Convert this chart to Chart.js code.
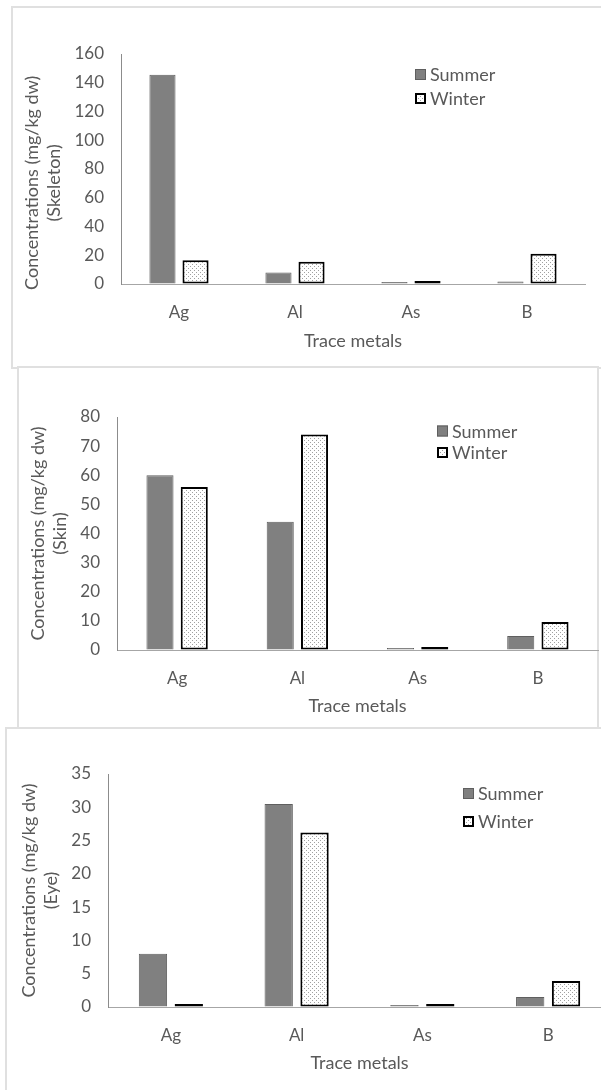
<!DOCTYPE html>
<html>
<head>
<meta charset="utf-8">
<script src="https://cdn.jsdelivr.net/npm/chart.js@4.4.1/dist/chart.umd.min.js"></script>
<style>
  html, body { margin: 0; padding: 0; background: #fff; }
  body { width: 601px; height: 1090px; position: relative; overflow: hidden; }
  .panel { position: absolute; box-sizing: border-box; border: 2px solid #e0e0e0; background: #fff; }
  canvas { position: absolute; left: 0; }
</style>
</head>
<body>
<div class="panel" style="left:11px; top:6px; width:640px; height:363px;"></div>
<div class="panel" style="left:17px; top:366px; width:582px; height:364px;"></div>
<div class="panel" style="left:5px; top:727px; width:640px; height:400px;"></div>
<canvas id="skeletonChart" width="601" height="368" style="top:0px;"></canvas>
<canvas id="skinChart" width="601" height="360" style="top:368px;"></canvas>
<canvas id="eyeChart" width="620" height="362" style="top:728px;"></canvas>
<script>
// Data (mg/kg dw)
const metals = ['Ag', 'Al', 'As', 'B'];
const seasons = ['Summer', 'Winter'];

const skeletonSummer = [145.5, 8.0, 0.5, 1.8];
const skeletonWinter = [16.5, 15.5, 0.9, 21.0];

const skinSummer = [60.0, 44.0, 0.4, 4.8];
const skinWinter = [56.0, 74.0, 0.6, 9.6];

const eyeSummer = [8.0, 30.5, 0.15, 1.5];
const eyeWinter = [0.15, 26.2, 0.15, 3.9];

const textColor = '#595959';
const fontFamily = 'Lato, "Open Sans", sans-serif';

// dotted fill used for the winter bars
const makeDots = () => {
    const c = document.createElement('canvas');
    c.width = 4; c.height = 4;
    const g = c.getContext('2d');
    g.fillStyle = '#ffffff';
    g.fillRect(0, 0, 4, 4);
    g.fillStyle = '#a0a0a0';
    g.fillRect(0, 0, 1, 1);
    g.fillRect(2, 2, 1, 1);
    return g.createPattern(c, 'repeat');
};
const dots = makeDots();

// legend drawn inside the plot like the Excel original
const seasonLegend = {
    id: 'seasonLegend',
    afterDraw(chart, args, opts) {
        const ctx = chart.ctx;
        chart.data.datasets.forEach((ds, i) => {
            const y = opts.rows[i];
            const s = opts.box;
            ctx.save();
            ctx.fillStyle = ds.backgroundColor;
            ctx.fillRect(opts.x, y - s / 2, s, s);
            ctx.lineWidth = ds.borderWidth;
            ctx.strokeStyle = ds.borderColor;
            ctx.strokeRect(opts.x + ds.borderWidth / 2, y - s / 2 + ds.borderWidth / 2, s - ds.borderWidth, s - ds.borderWidth);
            ctx.fillStyle = textColor;
            ctx.font = '18px ' + fontFamily;
            ctx.textBaseline = 'middle';
            ctx.textAlign = 'left';
            ctx.fillText(ds.label, opts.textX, y + 1);
            ctx.restore();
        });
    }
};

const makeChart = (id, summer, winter, cfg) => {
    const ctx = document.getElementById(id).getContext('2d');
    return new Chart(ctx, {
        type: 'bar',
        data: {
            labels: metals,
            datasets: [{
                label: seasons[0],
                data: summer,
                backgroundColor: '#808080',
                borderColor: '#5f5f5f',
                borderWidth: 1,
                borderSkipped: 'bottom',
                minBarLength: 2
            }, {
                label: seasons[1],
                data: winter,
                backgroundColor: dots,
                borderColor: '#000000',
                borderWidth: 2,
                borderSkipped: false,
                minBarLength: 3
            }]
        },
        options: {
            responsive: false,
            animation: false,
            devicePixelRatio: 1,
            layout: { padding: { top: cfg.top, right: cfg.right, bottom: 0, left: 0 } },
            datasets: { bar: { categoryPercentage: 0.57, barPercentage: 0.79 } },
            plugins: {
                legend: { display: false },
                tooltip: { enabled: false },
                seasonLegend: cfg.legend
            },
            scales: {
                x: {
                    grid: { display: true, drawOnChartArea: false, drawTicks: false },
                    border: { color: '#a6a6a6', width: 1 },
                    ticks: { color: textColor, font: { family: fontFamily, size: 17 }, padding: 18 },
                    title: {
                        display: true,
                        text: 'Trace metals',
                        color: textColor,
                        font: { family: fontFamily, size: 18, lineHeight: 1.2 },
                        padding: { top: 0, bottom: cfg.xTitlePad }
                    },
                    afterFit: (s) => { s.height = cfg.xHeight; }
                },
                y: {
                    min: 0,
                    max: cfg.max,
                    grid: { display: true, drawOnChartArea: false, drawTicks: false },
                    border: { color: '#8c8c8c', width: 1 },
                    ticks: { stepSize: cfg.step, color: textColor, font: { family: fontFamily, size: 17 }, padding: 17 },
                    title: {
                        display: true,
                        text: cfg.yTitle,
                        color: textColor,
                        font: { family: fontFamily, size: 18, lineHeight: 1.22 },
                        padding: { top: cfg.yTitlePad, bottom: 0 }
                    },
                    afterFit: (s) => { s.width = cfg.yWidth; }
                }
            }
        },
        plugins: [seasonLegend]
    });
};

window.onload = () => {
    makeChart('skeletonChart', skeletonSummer, skeletonWinter, {
        top: 54, right: 16, max: 160, step: 20,
        xHeight: 84, xTitlePad: 16, yWidth: 121, yTitlePad: 21,
        yTitle: ['Concentrations (mg/kg dw)      ', '(Skeleton)      '],
        legend: { x: 415, textX: 430, box: 11, rows: [74.5, 98.5] }
    });
    makeChart('skinChart', skinSummer, skinWinter, {
        top: 49, right: 3, max: 80, step: 10,
        xHeight: 78, xTitlePad: 11, yWidth: 117, yTitlePad: 27,
        yTitle: ['Concentrations (mg/kg dw)', '(Skin)'],
        legend: { x: 437, textX: 452, box: 11, rows: [63, 84.5] }
    });
    makeChart('eyeChart', eyeSummer, eyeWinter, {
        top: 46, right: 9, max: 35, step: 5,
        xHeight: 83, xTitlePad: 16, yWidth: 108, yTitlePad: 18,
        yTitle: ['Concentrations (mg/kg dw)', '(Eye)'],
        legend: { x: 463, textX: 478, box: 11, rows: [65.5, 93.5] }
    });
};
</script>
</body>
</html>
